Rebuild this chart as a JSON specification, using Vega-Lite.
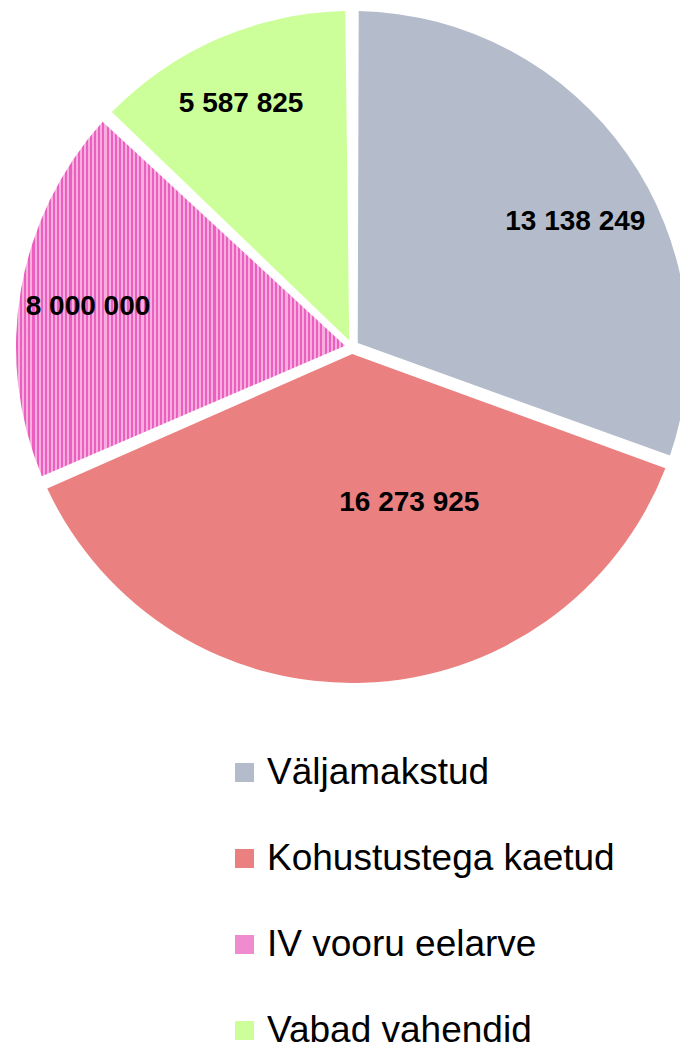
{
  "$schema": "https://vega.github.io/schema/vega-lite/v6.json",
  "width": 704,
  "height": 694,
  "padding": 0,
  "autosize": {"type": "pad"},
  "background": "white",
  "config": {
    "view": {"stroke": null},
    "locale": {"number": {"decimal": ",", "thousands": " ", "grouping": [3], "currency": ["", ""]}}
  },
  "data": {
    "values": [
      {"cat": "Väljamakstud", "v": 13138249, "i": 1},
      {"cat": "Kohustustega kaetud", "v": 16273925, "i": 2},
      {"cat": "IV vooru eelarve", "v": 8000000, "i": 3},
      {"cat": "Vabad vahendid", "v": 5587825, "i": 4}
    ]
  },
  "encoding": {
    "theta": {"field": "v", "type": "quantitative", "stack": true},
    "order": {"field": "i", "type": "quantitative"}
  },
  "layer": [
    {
      "mark": {"type": "arc", "outerRadius": 336, "innerRadius": 7, "padAngle": 0.04},
      "encoding": {
        "color": {
          "field": "cat",
          "type": "nominal",
          "scale": {
            "domain": ["Väljamakstud", "Kohustustega kaetud", "IV vooru eelarve", "Vabad vahendid"],
            "range": ["#b4bccb", "#eb8080", "#f08bd0", "#ccff99"]
          },
          "condition": {
            "test": "datum.cat === 'IV vooru eelarve'",
            "value": {
              "gradient": "linear", "x1": 0, "y1": 0, "x2": 1, "y2": 0,
              "stops": [
{"offset":0,"color":"#ea5fbf"},{"offset":0.00625,"color":"#ea5fbf"},{"offset":0.00625,"color":"#f7aede"},{"offset":0.0125,"color":"#f7aede"},
{"offset":0.0125,"color":"#ea5fbf"},{"offset":0.01875,"color":"#ea5fbf"},{"offset":0.01875,"color":"#f7aede"},{"offset":0.025,"color":"#f7aede"},
{"offset":0.025,"color":"#ea5fbf"},{"offset":0.03125,"color":"#ea5fbf"},{"offset":0.03125,"color":"#f7aede"},{"offset":0.0375,"color":"#f7aede"},
{"offset":0.0375,"color":"#ea5fbf"},{"offset":0.04375,"color":"#ea5fbf"},{"offset":0.04375,"color":"#f7aede"},{"offset":0.05,"color":"#f7aede"},
{"offset":0.05,"color":"#ea5fbf"},{"offset":0.05625,"color":"#ea5fbf"},{"offset":0.05625,"color":"#f7aede"},{"offset":0.0625,"color":"#f7aede"},
{"offset":0.0625,"color":"#ea5fbf"},{"offset":0.06875,"color":"#ea5fbf"},{"offset":0.06875,"color":"#f7aede"},{"offset":0.075,"color":"#f7aede"},
{"offset":0.075,"color":"#ea5fbf"},{"offset":0.08125,"color":"#ea5fbf"},{"offset":0.08125,"color":"#f7aede"},{"offset":0.0875,"color":"#f7aede"},
{"offset":0.0875,"color":"#ea5fbf"},{"offset":0.09375,"color":"#ea5fbf"},{"offset":0.09375,"color":"#f7aede"},{"offset":0.1,"color":"#f7aede"},
{"offset":0.1,"color":"#ea5fbf"},{"offset":0.10625,"color":"#ea5fbf"},{"offset":0.10625,"color":"#f7aede"},{"offset":0.1125,"color":"#f7aede"},
{"offset":0.1125,"color":"#ea5fbf"},{"offset":0.11875,"color":"#ea5fbf"},{"offset":0.11875,"color":"#f7aede"},{"offset":0.125,"color":"#f7aede"},
{"offset":0.125,"color":"#ea5fbf"},{"offset":0.13125,"color":"#ea5fbf"},{"offset":0.13125,"color":"#f7aede"},{"offset":0.1375,"color":"#f7aede"},
{"offset":0.1375,"color":"#ea5fbf"},{"offset":0.14375,"color":"#ea5fbf"},{"offset":0.14375,"color":"#f7aede"},{"offset":0.15,"color":"#f7aede"},
{"offset":0.15,"color":"#ea5fbf"},{"offset":0.15625,"color":"#ea5fbf"},{"offset":0.15625,"color":"#f7aede"},{"offset":0.1625,"color":"#f7aede"},
{"offset":0.1625,"color":"#ea5fbf"},{"offset":0.16875,"color":"#ea5fbf"},{"offset":0.16875,"color":"#f7aede"},{"offset":0.175,"color":"#f7aede"},
{"offset":0.175,"color":"#ea5fbf"},{"offset":0.18125,"color":"#ea5fbf"},{"offset":0.18125,"color":"#f7aede"},{"offset":0.1875,"color":"#f7aede"},
{"offset":0.1875,"color":"#ea5fbf"},{"offset":0.19375,"color":"#ea5fbf"},{"offset":0.19375,"color":"#f7aede"},{"offset":0.2,"color":"#f7aede"},
{"offset":0.2,"color":"#ea5fbf"},{"offset":0.20625,"color":"#ea5fbf"},{"offset":0.20625,"color":"#f7aede"},{"offset":0.2125,"color":"#f7aede"},
{"offset":0.2125,"color":"#ea5fbf"},{"offset":0.21875,"color":"#ea5fbf"},{"offset":0.21875,"color":"#f7aede"},{"offset":0.225,"color":"#f7aede"},
{"offset":0.225,"color":"#ea5fbf"},{"offset":0.23125,"color":"#ea5fbf"},{"offset":0.23125,"color":"#f7aede"},{"offset":0.2375,"color":"#f7aede"},
{"offset":0.2375,"color":"#ea5fbf"},{"offset":0.24375,"color":"#ea5fbf"},{"offset":0.24375,"color":"#f7aede"},{"offset":0.25,"color":"#f7aede"},
{"offset":0.25,"color":"#ea5fbf"},{"offset":0.25625,"color":"#ea5fbf"},{"offset":0.25625,"color":"#f7aede"},{"offset":0.2625,"color":"#f7aede"},
{"offset":0.2625,"color":"#ea5fbf"},{"offset":0.26875,"color":"#ea5fbf"},{"offset":0.26875,"color":"#f7aede"},{"offset":0.275,"color":"#f7aede"},
{"offset":0.275,"color":"#ea5fbf"},{"offset":0.28125,"color":"#ea5fbf"},{"offset":0.28125,"color":"#f7aede"},{"offset":0.2875,"color":"#f7aede"},
{"offset":0.2875,"color":"#ea5fbf"},{"offset":0.29375,"color":"#ea5fbf"},{"offset":0.29375,"color":"#f7aede"},{"offset":0.3,"color":"#f7aede"},
{"offset":0.3,"color":"#ea5fbf"},{"offset":0.30625,"color":"#ea5fbf"},{"offset":0.30625,"color":"#f7aede"},{"offset":0.3125,"color":"#f7aede"},
{"offset":0.3125,"color":"#ea5fbf"},{"offset":0.31875,"color":"#ea5fbf"},{"offset":0.31875,"color":"#f7aede"},{"offset":0.325,"color":"#f7aede"},
{"offset":0.325,"color":"#ea5fbf"},{"offset":0.33125,"color":"#ea5fbf"},{"offset":0.33125,"color":"#f7aede"},{"offset":0.3375,"color":"#f7aede"},
{"offset":0.3375,"color":"#ea5fbf"},{"offset":0.34375,"color":"#ea5fbf"},{"offset":0.34375,"color":"#f7aede"},{"offset":0.35,"color":"#f7aede"},
{"offset":0.35,"color":"#ea5fbf"},{"offset":0.35625,"color":"#ea5fbf"},{"offset":0.35625,"color":"#f7aede"},{"offset":0.3625,"color":"#f7aede"},
{"offset":0.3625,"color":"#ea5fbf"},{"offset":0.36875,"color":"#ea5fbf"},{"offset":0.36875,"color":"#f7aede"},{"offset":0.375,"color":"#f7aede"},
{"offset":0.375,"color":"#ea5fbf"},{"offset":0.38125,"color":"#ea5fbf"},{"offset":0.38125,"color":"#f7aede"},{"offset":0.3875,"color":"#f7aede"},
{"offset":0.3875,"color":"#ea5fbf"},{"offset":0.39375,"color":"#ea5fbf"},{"offset":0.39375,"color":"#f7aede"},{"offset":0.4,"color":"#f7aede"},
{"offset":0.4,"color":"#ea5fbf"},{"offset":0.40625,"color":"#ea5fbf"},{"offset":0.40625,"color":"#f7aede"},{"offset":0.4125,"color":"#f7aede"},
{"offset":0.4125,"color":"#ea5fbf"},{"offset":0.41875,"color":"#ea5fbf"},{"offset":0.41875,"color":"#f7aede"},{"offset":0.425,"color":"#f7aede"},
{"offset":0.425,"color":"#ea5fbf"},{"offset":0.43125,"color":"#ea5fbf"},{"offset":0.43125,"color":"#f7aede"},{"offset":0.4375,"color":"#f7aede"},
{"offset":0.4375,"color":"#ea5fbf"},{"offset":0.44375,"color":"#ea5fbf"},{"offset":0.44375,"color":"#f7aede"},{"offset":0.45,"color":"#f7aede"},
{"offset":0.45,"color":"#ea5fbf"},{"offset":0.45625,"color":"#ea5fbf"},{"offset":0.45625,"color":"#f7aede"},{"offset":0.4625,"color":"#f7aede"},
{"offset":0.4625,"color":"#ea5fbf"},{"offset":0.46875,"color":"#ea5fbf"},{"offset":0.46875,"color":"#f7aede"},{"offset":0.475,"color":"#f7aede"},
{"offset":0.475,"color":"#ea5fbf"},{"offset":0.48125,"color":"#ea5fbf"},{"offset":0.48125,"color":"#f7aede"},{"offset":0.4875,"color":"#f7aede"},
{"offset":0.4875,"color":"#ea5fbf"},{"offset":0.49375,"color":"#ea5fbf"},{"offset":0.49375,"color":"#f7aede"},{"offset":0.5,"color":"#f7aede"},
{"offset":0.5,"color":"#ea5fbf"},{"offset":0.50625,"color":"#ea5fbf"},{"offset":0.50625,"color":"#f7aede"},{"offset":0.5125,"color":"#f7aede"},
{"offset":0.5125,"color":"#ea5fbf"},{"offset":0.51875,"color":"#ea5fbf"},{"offset":0.51875,"color":"#f7aede"},{"offset":0.525,"color":"#f7aede"},
{"offset":0.525,"color":"#ea5fbf"},{"offset":0.53125,"color":"#ea5fbf"},{"offset":0.53125,"color":"#f7aede"},{"offset":0.5375,"color":"#f7aede"},
{"offset":0.5375,"color":"#ea5fbf"},{"offset":0.54375,"color":"#ea5fbf"},{"offset":0.54375,"color":"#f7aede"},{"offset":0.55,"color":"#f7aede"},
{"offset":0.55,"color":"#ea5fbf"},{"offset":0.55625,"color":"#ea5fbf"},{"offset":0.55625,"color":"#f7aede"},{"offset":0.5625,"color":"#f7aede"},
{"offset":0.5625,"color":"#ea5fbf"},{"offset":0.56875,"color":"#ea5fbf"},{"offset":0.56875,"color":"#f7aede"},{"offset":0.575,"color":"#f7aede"},
{"offset":0.575,"color":"#ea5fbf"},{"offset":0.58125,"color":"#ea5fbf"},{"offset":0.58125,"color":"#f7aede"},{"offset":0.5875,"color":"#f7aede"},
{"offset":0.5875,"color":"#ea5fbf"},{"offset":0.59375,"color":"#ea5fbf"},{"offset":0.59375,"color":"#f7aede"},{"offset":0.6,"color":"#f7aede"},
{"offset":0.6,"color":"#ea5fbf"},{"offset":0.60625,"color":"#ea5fbf"},{"offset":0.60625,"color":"#f7aede"},{"offset":0.6125,"color":"#f7aede"},
{"offset":0.6125,"color":"#ea5fbf"},{"offset":0.61875,"color":"#ea5fbf"},{"offset":0.61875,"color":"#f7aede"},{"offset":0.625,"color":"#f7aede"},
{"offset":0.625,"color":"#ea5fbf"},{"offset":0.63125,"color":"#ea5fbf"},{"offset":0.63125,"color":"#f7aede"},{"offset":0.6375,"color":"#f7aede"},
{"offset":0.6375,"color":"#ea5fbf"},{"offset":0.64375,"color":"#ea5fbf"},{"offset":0.64375,"color":"#f7aede"},{"offset":0.65,"color":"#f7aede"},
{"offset":0.65,"color":"#ea5fbf"},{"offset":0.65625,"color":"#ea5fbf"},{"offset":0.65625,"color":"#f7aede"},{"offset":0.6625,"color":"#f7aede"},
{"offset":0.6625,"color":"#ea5fbf"},{"offset":0.66875,"color":"#ea5fbf"},{"offset":0.66875,"color":"#f7aede"},{"offset":0.675,"color":"#f7aede"},
{"offset":0.675,"color":"#ea5fbf"},{"offset":0.68125,"color":"#ea5fbf"},{"offset":0.68125,"color":"#f7aede"},{"offset":0.6875,"color":"#f7aede"},
{"offset":0.6875,"color":"#ea5fbf"},{"offset":0.69375,"color":"#ea5fbf"},{"offset":0.69375,"color":"#f7aede"},{"offset":0.7,"color":"#f7aede"},
{"offset":0.7,"color":"#ea5fbf"},{"offset":0.70625,"color":"#ea5fbf"},{"offset":0.70625,"color":"#f7aede"},{"offset":0.7125,"color":"#f7aede"},
{"offset":0.7125,"color":"#ea5fbf"},{"offset":0.71875,"color":"#ea5fbf"},{"offset":0.71875,"color":"#f7aede"},{"offset":0.725,"color":"#f7aede"},
{"offset":0.725,"color":"#ea5fbf"},{"offset":0.73125,"color":"#ea5fbf"},{"offset":0.73125,"color":"#f7aede"},{"offset":0.7375,"color":"#f7aede"},
{"offset":0.7375,"color":"#ea5fbf"},{"offset":0.74375,"color":"#ea5fbf"},{"offset":0.74375,"color":"#f7aede"},{"offset":0.75,"color":"#f7aede"},
{"offset":0.75,"color":"#ea5fbf"},{"offset":0.75625,"color":"#ea5fbf"},{"offset":0.75625,"color":"#f7aede"},{"offset":0.7625,"color":"#f7aede"},
{"offset":0.7625,"color":"#ea5fbf"},{"offset":0.76875,"color":"#ea5fbf"},{"offset":0.76875,"color":"#f7aede"},{"offset":0.775,"color":"#f7aede"},
{"offset":0.775,"color":"#ea5fbf"},{"offset":0.78125,"color":"#ea5fbf"},{"offset":0.78125,"color":"#f7aede"},{"offset":0.7875,"color":"#f7aede"},
{"offset":0.7875,"color":"#ea5fbf"},{"offset":0.79375,"color":"#ea5fbf"},{"offset":0.79375,"color":"#f7aede"},{"offset":0.8,"color":"#f7aede"},
{"offset":0.8,"color":"#ea5fbf"},{"offset":0.80625,"color":"#ea5fbf"},{"offset":0.80625,"color":"#f7aede"},{"offset":0.8125,"color":"#f7aede"},
{"offset":0.8125,"color":"#ea5fbf"},{"offset":0.81875,"color":"#ea5fbf"},{"offset":0.81875,"color":"#f7aede"},{"offset":0.825,"color":"#f7aede"},
{"offset":0.825,"color":"#ea5fbf"},{"offset":0.83125,"color":"#ea5fbf"},{"offset":0.83125,"color":"#f7aede"},{"offset":0.8375,"color":"#f7aede"},
{"offset":0.8375,"color":"#ea5fbf"},{"offset":0.84375,"color":"#ea5fbf"},{"offset":0.84375,"color":"#f7aede"},{"offset":0.85,"color":"#f7aede"},
{"offset":0.85,"color":"#ea5fbf"},{"offset":0.85625,"color":"#ea5fbf"},{"offset":0.85625,"color":"#f7aede"},{"offset":0.8625,"color":"#f7aede"},
{"offset":0.8625,"color":"#ea5fbf"},{"offset":0.86875,"color":"#ea5fbf"},{"offset":0.86875,"color":"#f7aede"},{"offset":0.875,"color":"#f7aede"},
{"offset":0.875,"color":"#ea5fbf"},{"offset":0.88125,"color":"#ea5fbf"},{"offset":0.88125,"color":"#f7aede"},{"offset":0.8875,"color":"#f7aede"},
{"offset":0.8875,"color":"#ea5fbf"},{"offset":0.89375,"color":"#ea5fbf"},{"offset":0.89375,"color":"#f7aede"},{"offset":0.9,"color":"#f7aede"},
{"offset":0.9,"color":"#ea5fbf"},{"offset":0.90625,"color":"#ea5fbf"},{"offset":0.90625,"color":"#f7aede"},{"offset":0.9125,"color":"#f7aede"},
{"offset":0.9125,"color":"#ea5fbf"},{"offset":0.91875,"color":"#ea5fbf"},{"offset":0.91875,"color":"#f7aede"},{"offset":0.925,"color":"#f7aede"},
{"offset":0.925,"color":"#ea5fbf"},{"offset":0.93125,"color":"#ea5fbf"},{"offset":0.93125,"color":"#f7aede"},{"offset":0.9375,"color":"#f7aede"},
{"offset":0.9375,"color":"#ea5fbf"},{"offset":0.94375,"color":"#ea5fbf"},{"offset":0.94375,"color":"#f7aede"},{"offset":0.95,"color":"#f7aede"},
{"offset":0.95,"color":"#ea5fbf"},{"offset":0.95625,"color":"#ea5fbf"},{"offset":0.95625,"color":"#f7aede"},{"offset":0.9625,"color":"#f7aede"},
{"offset":0.9625,"color":"#ea5fbf"},{"offset":0.96875,"color":"#ea5fbf"},{"offset":0.96875,"color":"#f7aede"},{"offset":0.975,"color":"#f7aede"},
{"offset":0.975,"color":"#ea5fbf"},{"offset":0.98125,"color":"#ea5fbf"},{"offset":0.98125,"color":"#f7aede"},{"offset":0.9875,"color":"#f7aede"},
{"offset":0.9875,"color":"#ea5fbf"},{"offset":0.99375,"color":"#ea5fbf"},{"offset":0.99375,"color":"#f7aede"},{"offset":1,"color":"#f7aede"}
              ]
            }
          },
          "legend": {
            "title": null,
            "orient": "none",
            "legendX": 226,
            "legendY": 754,
            "padding": 0,
            "direction": "vertical",
            "labelFont": "Liberation Sans",
            "labelFontSize": 37,
            "labelColor": "#000000",
            "labelOffset": 4,
            "labelLimit": 600,
            "symbolType": "square",
            "symbolSize": 361,
            "symbolStrokeWidth": 0,
            "rowPadding": 48
          }
        }
      }
    },
    {
      "mark": {"type": "text", "radius": 267, "thetaOffset": -0.02, "font": "Liberation Sans", "fontWeight": "bold", "fontSize": 28, "color": "#000000"},
      "encoding": {
        "text": {
          "condition": {"test": "datum.cat === 'IV vooru eelarve' || datum.cat === 'Vabad vahendid'", "field": "v", "type": "quantitative", "format": ",d"},
          "value": ""
        }
      }
    },
    {
      "mark": {"type": "text", "radius": 256, "thetaOffset": 0.1, "font": "Liberation Sans", "fontWeight": "bold", "fontSize": 28, "color": "#000000"},
      "encoding": {
        "text": {
          "condition": {"test": "datum.cat === 'Väljamakstud'", "field": "v", "type": "quantitative", "format": ",d"},
          "value": ""
        }
      }
    },
    {
      "mark": {"type": "text", "radius": 166, "thetaOffset": -0.32, "font": "Liberation Sans", "fontWeight": "bold", "fontSize": 28, "color": "#000000"},
      "encoding": {
        "text": {
          "condition": {"test": "datum.cat === 'Kohustustega kaetud'", "field": "v", "type": "quantitative", "format": ",d"},
          "value": ""
        }
      }
    }
  ]
}
